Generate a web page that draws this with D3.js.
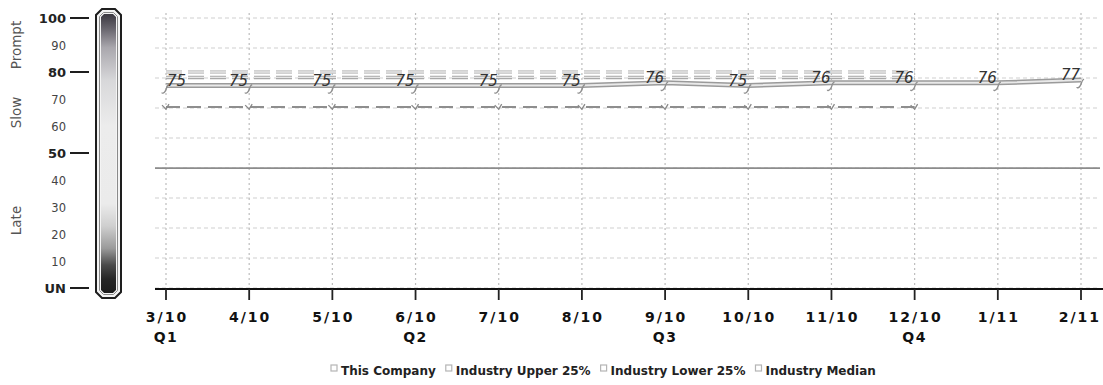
<!DOCTYPE html>
<html>
<head>
<meta charset="utf-8">
<script src="https://cdn.jsdelivr.net/npm/d3@7"></script>
<style>
  html, body { margin: 0; padding: 0; background: #fff; }
  svg { display: block; }
</style>
</head>
<body>
<svg id="chart" width="1103" height="385"></svg>
<script>
// Monthly payment scores
const months = ["3/10","4/10","5/10","6/10","7/10","8/10","9/10","10/10","11/10","12/10","1/11","2/11"];
const quarterMonths = ["3/10","6/10","9/10","12/10"];
const quarterLabels = ["Q1","Q2","Q3","Q4"];

const companyScores = [75,75,75,75,75,75,76,75,76,76,76,77];
const industryUpper = [80,80,80,80,80,80,80,80,80,80,null,null];
const industryMedian = [78,78,78,78,78,78,78,78,78,78,null,null];
const industryLower = [67,67,67,67,67,67,67,67,67,67,null,null];
const thresholdScore = 44.4;

// Score gauge on the left
const gaugeTicks = ["UN","10","20","30","40","50","60","70","80","90","100"];
const gaugeMajor = ["UN","50","80","100"];
const bandLabels = ["Prompt","Slow","Late"];
const bandCenters = [90, 65, 25];

const legendNames = ["This Company","Industry Upper 25%","Industry Lower 25%","Industry Median"];

const svg = d3.select("#chart");

const x = d3.scalePoint().domain(months).range([166, 1081]);
const y = d3.scaleLinear().domain([0, 100]).range([288, 18]);
const plotLeft = 155, plotRight = 1100, plotTop = 13;

// ---- gauge ----
const defs = svg.append("defs");
const grad = defs.append("linearGradient").attr("id", "gauge").attr("x1", 0).attr("y1", 0).attr("x2", 0).attr("y2", 1);
[["0%","#3b3840"],["5%","#66636b"],["12%","#a9a7ad"],["24%","#d8d8da"],["40%","#ececec"],
 ["68%","#ebebeb"],["76%","#cfcfcf"],["84%","#9a9a9a"],["90%","#4a4a4a"],["95%","#262626"],["100%","#1c1c1c"]]
  .forEach(([o,c]) => grad.append("stop").attr("offset", o).attr("stop-color", c));

function chamfer(x0, y0, x1, y1, c) {
  return `M${x0+c},${y0}H${x1-c}L${x1},${y0+c}V${y1-c}L${x1-c},${y1}H${x0+c}L${x0},${y1-c}V${y0+c}Z`;
}
svg.append("path").attr("d", chamfer(96, 9, 121, 298, 6))
  .attr("fill", "#f4f4f4").attr("stroke", "#1e1e1e").attr("stroke-width", 2);
svg.append("path").attr("d", chamfer(99.5, 12.5, 117.5, 294.5, 4))
  .attr("fill", "none").attr("stroke", "#8a8a8a").attr("stroke-width", 1);
svg.append("path").attr("d", chamfer(101, 14, 116, 293, 3))
  .attr("fill", "url(#gauge)");

const gaugeValue = t => t === "UN" ? 0 : +t;
const gt = svg.append("g").attr("font-family", "DejaVu Sans, Verdana, sans-serif");
gt.selectAll("text").data(gaugeTicks).join("text")
  .attr("x", 66)
  .attr("y", d => y(gaugeValue(d)) + 5)
  .attr("text-anchor", "end")
  .attr("font-size", d => gaugeMajor.includes(d) ? 13 : 11.5)
  .attr("font-weight", d => gaugeMajor.includes(d) ? "bold" : "normal")
  .attr("fill", d => gaugeMajor.includes(d) ? "#222" : "#444")
  .text(d => d);
svg.append("g").selectAll("line").data(gaugeMajor).join("line")
  .attr("x1", 70).attr("x2", 89)
  .attr("y1", d => y(gaugeValue(d))).attr("y2", d => y(gaugeValue(d)))
  .attr("stroke", "#1e1e1e").attr("stroke-width", 2);

svg.append("g").selectAll("text").data(bandLabels).join("text")
  .attr("transform", (d, i) => `translate(21,${y(bandCenters[i])}) rotate(-90)`)
  .attr("text-anchor", "middle")
  .attr("font-family", "DejaVu Sans, Verdana, sans-serif")
  .attr("font-size", 13.5)
  .attr("fill", "#555")
  .text(d => d);

// ---- grid ----
const gridValues = d3.range(10).map(i => i * 100 / 9);
svg.append("g").selectAll("line").data(gridValues).join("line")
  .attr("x1", plotLeft).attr("x2", plotRight)
  .attr("y1", d => y(d)).attr("y2", d => y(d))
  .attr("stroke", "#cfcfcf").attr("stroke-width", 1).attr("stroke-dasharray", "4,3");
svg.append("g").selectAll("line").data(months).join("line")
  .attr("x1", d => x(d)).attr("x2", d => x(d))
  .attr("y1", plotTop).attr("y2", y(0))
  .attr("stroke", "#bdbdbd").attr("stroke-width", 1.2).attr("stroke-dasharray", "2,3");
svg.append("line")
  .attr("x1", plotLeft).attr("x2", plotRight)
  .attr("y1", y(thresholdScore)).attr("y2", y(thresholdScore))
  .attr("stroke", "#8c8c8c").attr("stroke-width", 1.6);

// ---- series ----
const line = d3.line()
  .defined(d => d.v != null)
  .x(d => x(d.m)).y(d => y(d.v));
const pts = arr => months.map((m, i) => ({ m, v: arr[i] }));

// industry bands: dashed double strokes
function doubleDashed(arr, outer, inner, dash) {
  svg.append("path").datum(pts(arr)).attr("d", line)
    .attr("fill", "none").attr("stroke", outer).attr("stroke-width", 3.5).attr("stroke-dasharray", dash);
  svg.append("path").datum(pts(arr)).attr("d", line)
    .attr("fill", "none").attr("stroke", inner).attr("stroke-width", 1.2).attr("stroke-dasharray", dash);
}
doubleDashed(industryUpper, "#c2c2c2", "#f1f1f1", "16,6");
doubleDashed(industryMedian, "#a9a9a9", "#e6e6e6", "16,6");
svg.append("path").datum(pts(industryLower)).attr("d", line)
  .attr("fill", "none").attr("stroke", "#8e8e8e").attr("stroke-width", 2).attr("stroke-dasharray", "14,7");

// markers on the lower quartile
svg.append("g").selectAll("path").data(pts(industryLower).filter(d => d.v != null)).join("path")
  .attr("d", d => `M ${x(d.m)-4} ${y(d.v)-2} L ${x(d.m)} ${y(d.v)+2} L ${x(d.m)+3} ${y(d.v)-3}`)
  .attr("fill", "none").attr("stroke", "#8a8a8a").attr("stroke-width", 1.3);

// company line: outlined gray stroke
svg.append("path").datum(pts(companyScores)).attr("d", line)
  .attr("fill", "none").attr("stroke", "#9a9a9a").attr("stroke-width", 5);
svg.append("path").datum(pts(companyScores)).attr("d", line)
  .attr("fill", "none").attr("stroke", "#e9e9e9").attr("stroke-width", 2);

// hook markers at each company point
svg.append("g").selectAll("path").data(pts(companyScores)).join("path")
  .attr("d", d => {
    const cx = x(d.m), cy = y(d.v);
    return `M ${cx+3} ${cy-1} C ${cx} ${cy} ${cx+1} ${cy+4} ${cx-1} ${cy+6} C ${cx-2} ${cy+8} ${cx-4} ${cy+8} ${cx-4} ${cy+7}`;
  })
  .attr("fill", "none").attr("stroke", "#8f8f8f").attr("stroke-width", 1.4);

// value labels
svg.append("g").selectAll("text").data(pts(companyScores)).join("text")
  .attr("x", (d, i) => i === 0 ? x(d.m) + 1 : x(d.m) - 1)
  .attr("y", d => y(d.v))
  .attr("text-anchor", (d, i) => i === 0 ? "start" : "end")
  .attr("font-family", "DejaVu Sans, Verdana, sans-serif")
  .attr("font-size", 15)
  .attr("font-style", "italic")
  .attr("fill", "#333")
  .text(d => d.v);

// ---- x axis ----
const axisG = svg.append("g");
axisG.append("line")
  .attr("x1", plotLeft).attr("x2", 1103)
  .attr("y1", y(0) + 1).attr("y2", y(0) + 1)
  .attr("stroke", "#111").attr("stroke-width", 2);
axisG.selectAll("line.tick").data(months).join("line").attr("class", "tick")
  .attr("x1", d => x(d)).attr("x2", d => x(d))
  .attr("y1", y(0) + 1).attr("y2", y(0) + 12)
  .attr("stroke", "#222").attr("stroke-width", 1.8);
const monthLabels = axisG.selectAll("text.month").data(months).join("text").attr("class", "month")
  .attr("x", d => x(d) + 1).attr("y", 322)
  .attr("text-anchor", "middle")
  .attr("font-family", "DejaVu Sans, Verdana, sans-serif")
  .attr("font-size", 14).attr("font-weight", "bold")
  .attr("letter-spacing", 2)
  .attr("fill", "#111")
  .text(d => d);
// keep the last label inside the frame
monthLabels.each(function() {
  const b = this.getBBox();
  if (b.x + b.width > 1101) d3.select(this).attr("x", +d3.select(this).attr("x") - (b.x + b.width - 1101));
});
axisG.selectAll("text.quarter").data(quarterLabels).join("text").attr("class", "quarter")
  .attr("x", (d, i) => x(quarterMonths[i])).attr("y", 342)
  .attr("text-anchor", "middle")
  .attr("font-family", "DejaVu Sans, Verdana, sans-serif")
  .attr("font-size", 14).attr("font-weight", "bold")
  .attr("letter-spacing", 1.5)
  .attr("fill", "#111")
  .text(d => d);

// ---- legend ----
const legend = svg.append("g").attr("font-family", "DejaVu Sans, Verdana, sans-serif")
  .attr("font-size", 12).attr("font-weight", "bold");
let lx = 331;
legendNames.forEach((name, i) => {
  const g = legend.append("g").attr("transform", `translate(${lx},370)`);
  g.append("rect").attr("x", 0).attr("y", -5).attr("width", 6).attr("height", 6)
    .attr("fill", "none").attr("stroke", "#b5b5b5").attr("stroke-width", 1.2);
  const t = g.append("text").attr("x", 10).attr("y", 5).attr("fill", "#222").text(name);
  lx += 10 + t.node().getComputedTextLength() + 10;
});
</script>
</body>
</html>
